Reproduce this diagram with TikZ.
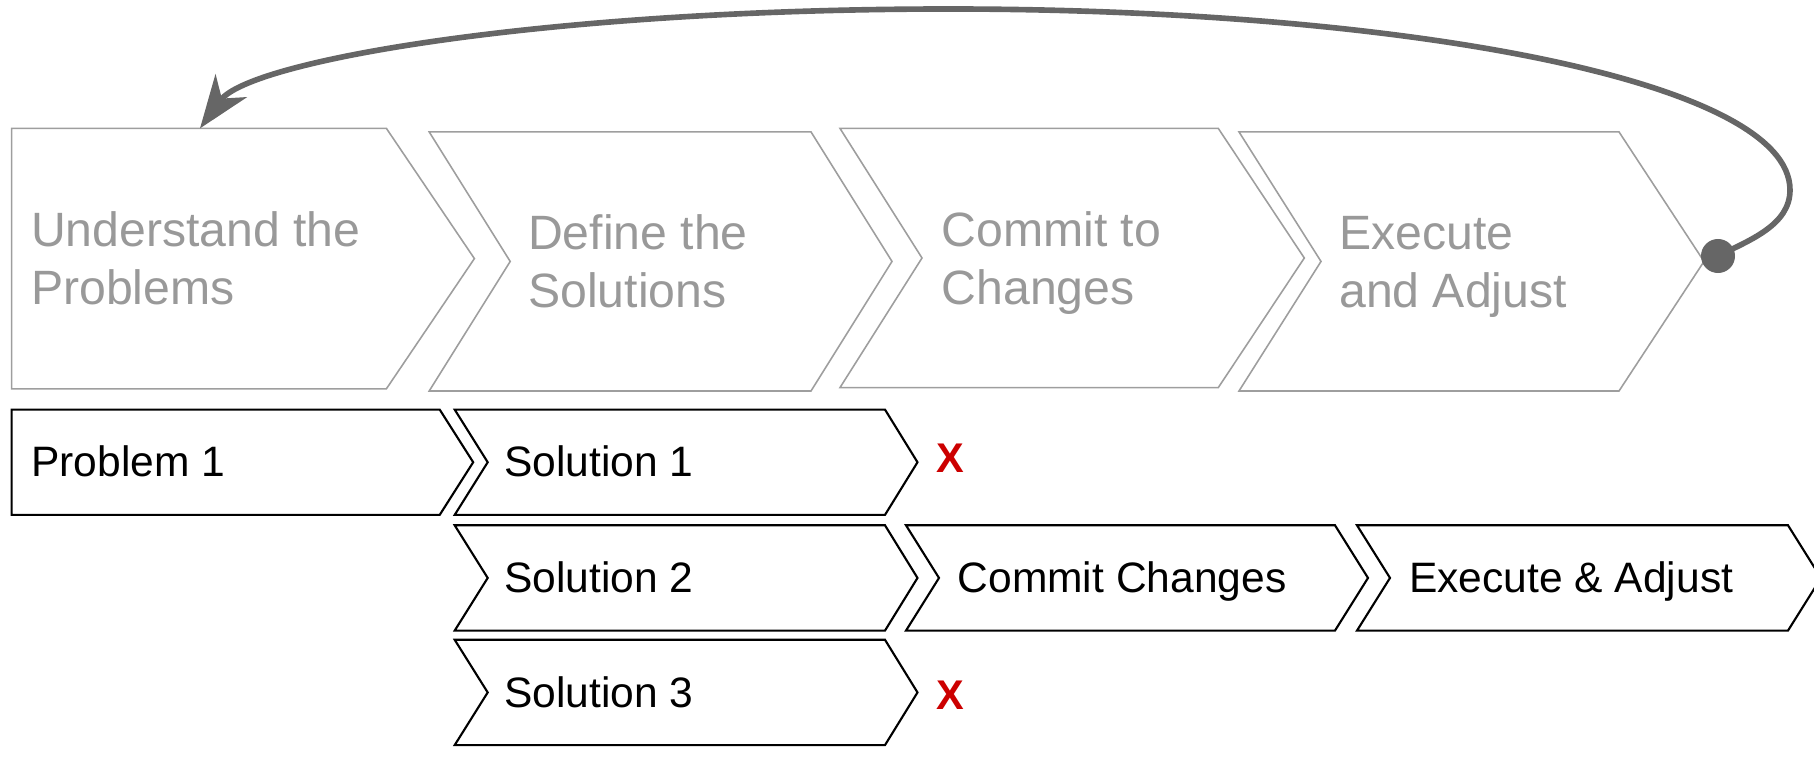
\documentclass[tikz,border=0pt]{standalone}
\usepackage{fontspec}
\setmainfont{Liberation Sans}
\usetikzlibrary{arrows.meta}
\definecolor{stagegray}{HTML}{999999}
\definecolor{stageline}{HTML}{9E9E9E}
\definecolor{loopgray}{HTML}{666666}
\definecolor{dropred}{HTML}{CC0000}

% chevron: [style]{left}{top}{right}{bottom}{notch depth}{tip depth}
\newcommand\chevron[7][]{%
  \draw[#1] (#2,#3) -- (#4,#3) -- ({#4+#7},{(#3+#5)/2}) -- (#4,#5) -- (#2,#5)
    -- ({#2+#6},{(#3+#5)/2}) -- cycle;}

\begin{document}
\begin{tikzpicture}[x=0.01cm,y=-0.01cm,
  stage/.style={draw=stageline, line width=0.45pt},
  taskbox/.style={draw=black, line width=0.6pt},
  % the base anchor of a two-line label sits on its second line
  stagelabel/.style={anchor=base west, align=left, text=stagegray, inner sep=0pt,
    font=\fontsize{13.7pt}{16.5pt}\selectfont},
  tasklabel/.style={anchor=base west, inner sep=0pt, font=\fontsize{12.1pt}{14pt}\selectfont},
  drop/.style={text=dropred, inner sep=0pt, font=\bfseries\fontsize{11.8pt}{14pt}\selectfont},
  loopback/.style={draw=loopgray, line width=1.6pt,
    -{Stealth[length=15pt,width=11pt,inset=4.5pt]}}
]
\useasboundingbox (0,0) rectangle (1814,761);

% stage row
\chevron[stage]{11.6}{128.4}{386.4}{388.8}{0}{88}
\chevron[stage]{429.2}{131.9}{811}{391}{81}{81}
\chevron[stage]{840}{128.4}{1218.3}{387.6}{82}{86}
\chevron[stage]{1239}{131.9}{1619}{391}{82}{85}

\node[stagelabel] (s1) at (30.5,304.6) {Understand the\\Problems};
\node[stagelabel] (s2) at (527.5,307.5) {Define the\\Solutions};
\node[stagelabel] (s3) at (941,305) {Commit to\\Changes};
\node[stagelabel] (s4) at (1338.5,307.5) {Execute\\and Adjust};

% task rows
\chevron[taskbox]{11.6}{409.6}{439.7}{514.9}{0}{33.5}
\chevron[taskbox]{454.7}{409.6}{885}{514.9}{33}{32.5}
\chevron[taskbox]{454.7}{525.3}{885}{630.6}{33}{32.5}
\chevron[taskbox]{454.7}{639.8}{885}{745.1}{33}{32.5}
\chevron[taskbox]{906}{525.3}{1335}{630.6}{33}{33}
\chevron[taskbox]{1357}{525.3}{1788}{630.6}{33}{33}

\node[tasklabel] (p1) at (30.5,477) {Problem 1};
\node[tasklabel] (sol1) at (503.5,477) {Solution 1};
\node[tasklabel] (sol2) at (503.5,593) {Solution 2};
\node[tasklabel] (sol3) at (503.5,707.5) {Solution 3};
\node[tasklabel] (commit) at (957,593) {Commit Changes};
\node[tasklabel] (exec) at (1408.5,593) {Execute \& Adjust};

\node[drop] (x1) at (950,458) {X};
\node[drop] (x3) at (950,695) {X};

% loop back to the first stage
\node[circle, fill=loopgray, minimum size=0.34cm, inner sep=0pt] (dot) at (1718,256) {};
\coordinate (back) at (200,128.4);
\draw[loopback] (dot.center) .. controls (1750,240) and (1790,225) .. (1790,190)
  .. controls (1790,80) and (1400,9) .. (949,9)
  .. controls (550,9) and (250,60) .. (back);
\end{tikzpicture}
\end{document}
